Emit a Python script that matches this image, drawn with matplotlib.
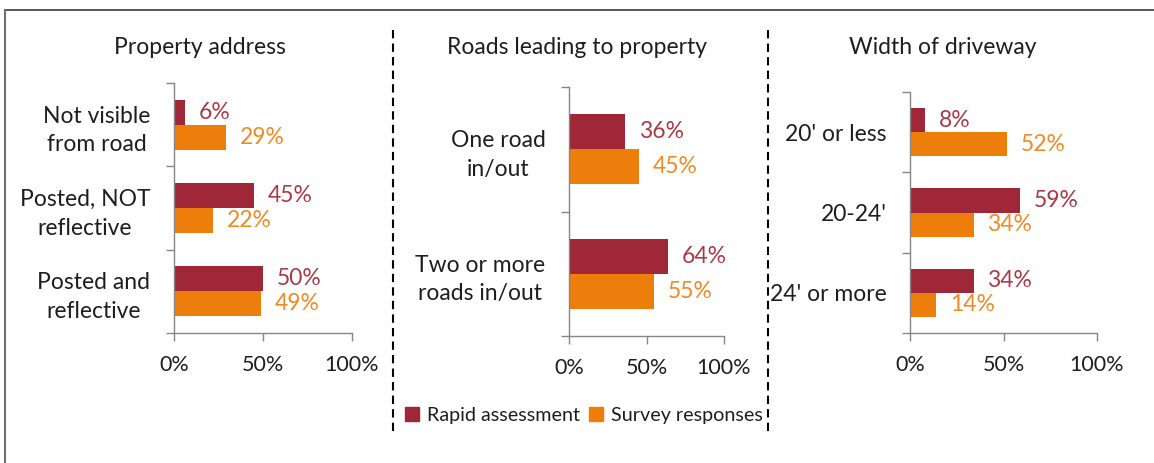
import matplotlib
matplotlib.use("Agg")
import matplotlib.pyplot as plt
import numpy as np
from matplotlib.lines import Line2D
from matplotlib.patches import Patch

plt.rcParams["font.family"] = ["Lato", "DejaVu Sans"]

RED = "#a02737"
ORANGE = "#ee7e0c"
RED_TXT = "#a93a48"
ORANGE_TXT = "#f08a22"
AXIS = "#868686"
TXT = "#1e1e1e"

# data, categories listed top to bottom
titles = ["Property address", "Roads leading to property", "Width of driveway"]
cats_address = ["Not visible\nfrom road", "Posted, NOT\nreflective", "Posted and\nreflective"]
rapid_address = [6, 45, 50]
survey_address = [29, 22, 49]
cats_roads = ["One road\nin/out", "Two or more\nroads in/out"]
rapid_roads = [36, 64]
survey_roads = [45, 55]
cats_width = ["20' or less", "20-24'", "24' or more"]
rapid_width = [8, 59, 34]
survey_width = [52, 34, 14]
xticks = [0, 50, 100]
xtick_labels = ["0%", "50%", "100%"]

W, H = 1154, 463
fig = plt.figure(figsize=(W / 100, H / 100), dpi=100)


def px_axes(left, right, top, bottom):
    return fig.add_axes([left / W, 1 - bottom / H, (right - left) / W, (bottom - top) / H])


def panel(ax, cats, rapid, survey, bh):
    n = len(cats)
    y = np.arange(n)
    ax.barh(y - bh / 2, rapid, bh, color=RED)
    ax.barh(y + bh / 2, survey, bh, color=ORANGE)
    for yi, v in zip(y, rapid):
        ax.annotate(f"{v}%", (v, yi - bh / 2), xytext=(10, 0), textcoords="offset points",
                    ha="left", va="center", color=RED_TXT, fontsize=16.5)
    for yi, v in zip(y, survey):
        ax.annotate(f"{v}%", (v, yi + bh / 2), xytext=(10, 0), textcoords="offset points",
                    ha="left", va="center", color=ORANGE_TXT, fontsize=16.5)
    ax.set_xlim(0, 100)
    ax.set_ylim(n - 0.5, -0.5)
    ax.set_xticks(xticks)
    ax.set_xticklabels(xtick_labels, fontsize=15.5, color=TXT)
    ax.set_yticks(np.arange(n + 1) - 0.5)
    ax.set_yticklabels([])
    ax.set_yticks(y, minor=True)
    ax.set_yticklabels(cats, minor=True, fontsize=16.5, color=TXT)
    for lbl in ax.get_yticklabels(minor=True):
        lbl.set_multialignment("center")
        lbl.set_linespacing(1.45)
    ax.tick_params(axis="y", which="minor", length=0, pad=17)
    ax.tick_params(axis="y", which="major", length=6, color=AXIS, width=1)
    ax.tick_params(axis="x", length=6, color=AXIS, width=1, pad=10)
    for s in ["top", "right"]:
        ax.spines[s].set_visible(False)
    for s in ["left", "bottom"]:
        ax.spines[s].set_color(AXIS)
        ax.spines[s].set_linewidth(1)


ax1 = px_axes(174, 352, 83, 333)
ax2 = px_axes(569, 724, 87, 336)
ax3 = px_axes(910, 1097, 92, 333)
panel(ax1, cats_address, rapid_address, survey_address, 0.3)
panel(ax2, cats_roads, rapid_roads, survey_roads, 0.28)
panel(ax3, cats_width, rapid_width, survey_width, 0.3)
for xc, t in zip([200, 577, 943], titles):
    fig.text(xc / W, 1 - 48 / H, t, ha="center", va="center", fontsize=16.5, color=TXT)

# dashed separators and outer frame
for xp in [393, 768]:
    fig.add_artist(Line2D([xp / W, xp / W], [1 - 30 / H, 1 - 435 / H], color="black",
                          lw=1.5, linestyle=(0, (4, 2.5))))
fig.add_artist(Line2D([5 / W, 1], [1 - 10 / H, 1 - 10 / H], color="#3a3a3a", lw=1.2))
fig.add_artist(Line2D([5 / W, 5 / W], [0, 1 - 10 / H], color="#6f6f6f", lw=1.5))

handles = [Patch(color=RED), Patch(color=ORANGE)]
fig.legend(handles, ["Rapid assessment", "Survey responses"], loc="center",
           bbox_to_anchor=(584 / W, 1 - 415 / H), ncol=2, frameon=False, fontsize=14.2,
           handlelength=0.7, handleheight=0.7, handletextpad=0.4, columnspacing=0.5,
           labelcolor=TXT, borderpad=0, borderaxespad=0)

fig.savefig("out.png", dpi=100)
